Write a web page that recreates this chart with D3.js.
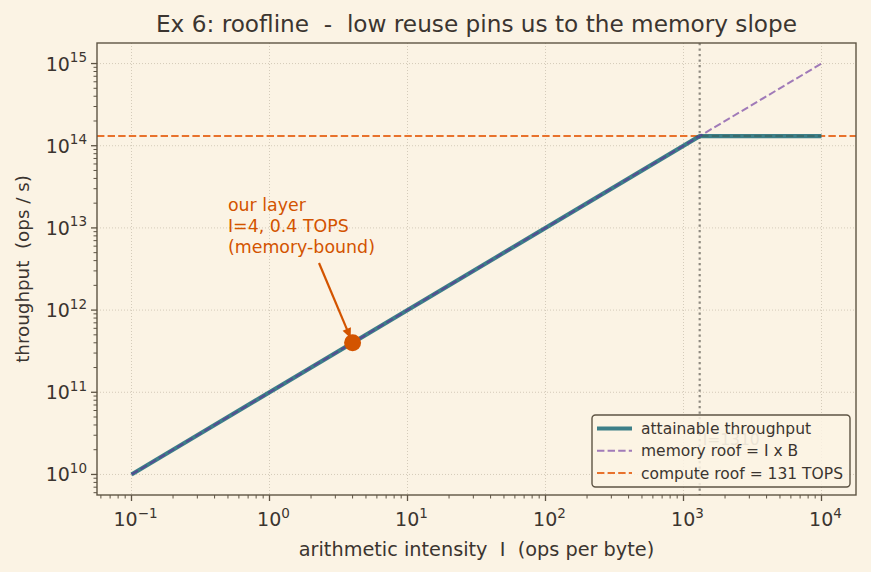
<!DOCTYPE html>
<html><head><meta charset="utf-8">
<script src="https://cdn.jsdelivr.net/npm/d3@7"></script>
<style>
body{margin:0;background:#fbf3e4;}
svg{display:block;font-family:"DejaVu Sans",sans-serif;}
svg text{white-space:pre;}
</style></head>
<body><svg id="c" width="871" height="572"></svg>
<script>
// ---- data ----
const bandwidth = 1e11;            // bytes / s
const computeRoof = 1.31e14;        // ops / s  (131 TOPS)
const ridgeI = 1310;
const intensity = [0.1, 1310, 10000];
const attainable = [1e10, 1.31e14, 1.31e14];
const memoryRoofI = [0.1, 10000];
const memoryRoofY = [1e10, 1e15];
const layerPoint = {I: 4, y: 4e11};
const xTickExp = [-1, 0, 1, 2, 3, 4];
const yTickExp = [10, 11, 12, 13, 14, 15];
const annotationLines = ["our layer", "I=4, 0.4 TOPS", "(memory-bound)"];
const legendLabels = ["attainable throughput", "memory roof = I x B", "compute roof = 131 TOPS"];

// ---- layout ----
const svg = d3.select("#c");
const L = 97, R = 856, T = 43, B = 495;
const x = d3.scaleLog().domain([Math.pow(10,-1.25), Math.pow(10,4.25)]).range([L, R]);
const y = d3.scaleLog().domain([Math.pow(10,9.75), Math.pow(10,15.25)]).range([B, T]);
const ink = "#3b3530", spine = "#5e5444";
const teal = "#1a6a78", purple = "#642a9b", orange = "#e8722c", annot = "#d35400";

svg.append("rect").attr("width",871).attr("height",572).attr("fill","#fbf3e4");

// grid
const g = svg.append("g");
xTickExp.forEach(e => g.append("line").attr("x1",x(10**e)).attr("x2",x(10**e)).attr("y1",T).attr("y2",B)
  .attr("stroke","#cfc6b4").attr("stroke-width",0.9).attr("stroke-dasharray","1,2"));
yTickExp.forEach(e => g.append("line").attr("y1",y(10**e)).attr("y2",y(10**e)).attr("x1",L).attr("x2",R)
  .attr("stroke","#cfc6b4").attr("stroke-width",0.9).attr("stroke-dasharray","1,2"));

svg.append("clipPath").attr("id","pc").append("rect").attr("x",L).attr("y",T).attr("width",R-L).attr("height",B-T);
const plot = svg.append("g").attr("clip-path","url(#pc)");

// ridge vertical dotted
plot.append("line").attr("x1",x(ridgeI)).attr("x2",x(ridgeI)).attr("y1",T).attr("y2",B)
  .attr("stroke","#8f8a80").attr("stroke-width",2.2).attr("stroke-dasharray","2.2,3.3");
plot.append("text").attr("x",x(ridgeI)+3).attr("y",y(2.6e10)+5).attr("fill","#8f8a80").attr("font-size",15.5)
  .text("I=" + ridgeI);

const line = d3.line().x(d=>x(d[0])).y(d=>y(d[1]));
// compute roof (axhline)
plot.append("line").attr("x1",L).attr("x2",R).attr("y1",y(computeRoof)).attr("y2",y(computeRoof))
  .attr("stroke",orange).attr("stroke-width",2).attr("stroke-dasharray","7.4,3.2");
// attainable
plot.append("path").attr("d", line(intensity.map((v,i)=>[v,attainable[i]])))
  .attr("fill","none").attr("stroke",teal).attr("stroke-opacity",0.85).attr("stroke-width",4.2).attr("stroke-linejoin","round");
// memory roof (semi-transparent, on top)
plot.append("path").attr("d", line(memoryRoofI.map((v,i)=>[v,memoryRoofY[i]])))
  .attr("fill","none").attr("stroke",purple).attr("stroke-opacity",0.6).attr("stroke-width",2).attr("stroke-dasharray","7.4,3.2");

// point
plot.append("circle").attr("cx",x(layerPoint.I)).attr("cy",y(layerPoint.y)).attr("r",8.5).attr("fill",annot);

// annotation
const ax = x(0.5), ay = y(5e12);
const at = svg.append("text").attr("fill",annot).attr("font-size",17.4);
annotationLines.forEach((s,i)=> at.append("tspan").attr("x",ax).attr("y",ay - (annotationLines.length-1-i)*20.6).text(s));
// arrow
const sx = 319, sy = 263;
const px = x(layerPoint.I), py = y(layerPoint.y);
const ang = Math.atan2(py-sy, px-sx);
const ex = px - Math.cos(ang)*5, ey = py - Math.sin(ang)*5;
svg.append("line").attr("x1",sx).attr("y1",sy).attr("x2",ex - Math.cos(ang)*6).attr("y2",ey - Math.sin(ang)*6)
  .attr("stroke",annot).attr("stroke-width",2.2);
const hl = 10, hw = 4.5;
const bx = ex - Math.cos(ang)*hl, by = ey - Math.sin(ang)*hl;
svg.append("path").attr("d",`M${ex},${ey}L${bx - Math.sin(ang)*hw},${by + Math.cos(ang)*hw}L${bx + Math.sin(ang)*hw},${by - Math.cos(ang)*hw}Z`)
  .attr("fill",annot);

// spines
svg.append("rect").attr("x",L).attr("y",T).attr("width",R-L).attr("height",B-T).attr("fill","none")
  .attr("stroke",spine).attr("stroke-width",1.4);

// ticks
const tg = svg.append("g");
for (let e=-2; e<=4; e++) for (let m=1; m<10; m++) {
  const v = m*10**e; if (v < x.domain()[0] || v > x.domain()[1]) continue;
  tg.append("line").attr("x1",x(v)).attr("x2",x(v)).attr("y1",B).attr("y2",B+(m===1?6:3.5)).attr("stroke",spine).attr("stroke-width",m===1?1.3:1);
}
for (let e=9; e<=15; e++) for (let m=1; m<10; m++) {
  const v = m*10**e; if (v < y.domain()[0] || v > y.domain()[1]) continue;
  tg.append("line").attr("y1",y(v)).attr("y2",y(v)).attr("x1",L).attr("x2",L-(m===1?6:3.5)).attr("stroke",spine).attr("stroke-width",m===1?1.3:1);
}
const tl = (sel, base, exp) => { sel.append("tspan").text(base); sel.append("tspan").attr("font-size",13.5).attr("dy",-8.5).text(exp); };
xTickExp.forEach(e => {
  const t = svg.append("text").attr("x",x(10**e)+4).attr("y",B+31).attr("text-anchor","middle").attr("fill",ink).attr("font-size",19);
  tl(t, "10", e<0 ? "\u2212"+(-e) : String(e));
});
yTickExp.forEach(e => {
  const t = svg.append("text").attr("x",L-10).attr("y",y(10**e)+7).attr("text-anchor","end").attr("fill",ink).attr("font-size",19);
  tl(t, "10", String(e));
});

// labels
svg.append("text").attr("x",(L+R)/2).attr("y",556).attr("text-anchor","middle").attr("fill",ink).attr("font-size",19.3)
  .text("arithmetic intensity  I  (ops per byte)");
svg.append("text").attr("transform",`translate(29,${(T+B)/2}) rotate(-90)`).attr("text-anchor","middle").attr("fill",ink).attr("font-size",18.3)
  .text("throughput  (ops / s)");
svg.append("text").attr("x",(L+R)/2).attr("y",32).attr("text-anchor","middle").attr("fill",ink).attr("font-size",23.2)
  .text("Ex 6: roofline  -  low reuse pins us to the memory slope");

// legend
const lx = 592, ly = 415, lw = 258, lh = 72;
svg.append("rect").attr("x",lx).attr("y",ly).attr("width",lw).attr("height",lh).attr("rx",3.5)
  .attr("fill","#fbf3e4").attr("fill-opacity",0.85).attr("stroke",spine).attr("stroke-width",1.4);
const styles = [{c:teal,w:4.2,d:null,o:0.85},{c:purple,w:2,d:"7.4,3.2",o:0.6},{c:orange,w:2,d:"7.4,3.2",o:1}];
legendLabels.forEach((s,i)=>{
  const yy = ly + 13.5 + i*22.3;
  const ln = svg.append("line").attr("x1",lx+5).attr("x2",lx+40).attr("y1",yy).attr("y2",yy)
    .attr("stroke",styles[i].c).attr("stroke-opacity",styles[i].o).attr("stroke-width",styles[i].w);
  if (styles[i].d) ln.attr("stroke-dasharray",styles[i].d);
  svg.append("text").attr("x",lx+49).attr("y",yy+5.5).attr("fill",ink).attr("font-size",15.5).text(s);
});
</script></body></html>
